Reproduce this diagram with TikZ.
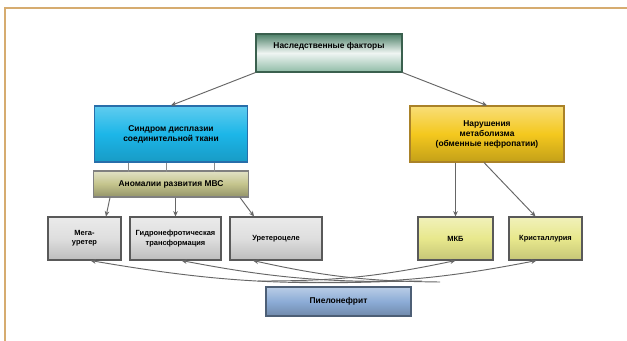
\documentclass[tikz,border=0pt]{standalone}
\usepackage{fontspec}
\setmainfont{Liberation Sans}
\usepackage{tikz}
\usetikzlibrary{arrows.meta}

\newlength\px
\setlength\px{0.75pt}

\definecolor{frametan}{RGB}{214,172,112}
\definecolor{topgreen}{RGB}{96,160,130}
\definecolor{cyanbox}{RGB}{28,182,232}
\definecolor{cyanedge}{RGB}{40,110,170}
\definecolor{goldbox}{RGB}{244,200,30}
\definecolor{goldedge}{RGB}{170,130,40}
\definecolor{oliveband}{RGB}{196,196,140}
\definecolor{greybox}{RGB}{222,222,222}
\definecolor{limebox}{RGB}{232,232,140}
\definecolor{steelbox}{RGB}{140,172,214}

\begin{document}
\begin{tikzpicture}[x=0.75pt,y=-0.75pt,
    txt/.style={font=\fontsize{6.3}{7.5}\selectfont\bfseries, align=center, inner sep=1pt},
    box/.style={txt, draw=black!65, line width=0.8pt, rectangle},
    greyb/.style={box, font=\fontsize{5.6}{7}\selectfont\bfseries, top color=white!92!black,
      bottom color=greybox!85!black, middle color=greybox},
    limeb/.style={box, font=\fontsize{5.6}{7}\selectfont\bfseries, top color=limebox!60!white,
      bottom color=limebox!85!black, middle color=limebox},
    arr/.style={-{Stealth[length=4pt,width=3.5pt]}, draw=black!60, line width=0.7pt},
    tie/.style={draw=black!45, line width=0.7pt}]
  \useasboundingbox (0,0) rectangle (627,341);
  \fill[white] (0,0) rectangle (627,341);
  \draw[frametan, line width=1pt] (5,341) -- (5,8) -- (627,8);

  % upper row
  \node[box, draw=topgreen!60!black, top color=topgreen!80!black, bottom color=topgreen!70,
        middle color=white!90!topgreen, minimum width={146*\px}, minimum height={38*\px},
        text depth=12pt]
        (gen) at (329,53) {Наследственные факторы};
  \node[box, draw=cyanedge, top color=cyanbox!70!white, bottom color=cyanbox!85!black,
        middle color=cyanbox, minimum width={153*\px}, minimum height={56*\px}]
        (dst) at (171,134) {Синдром дисплазии\\соединительной ткани};
  \node[box, draw=goldedge, top color=goldbox!60!white, bottom color=goldbox!80!black,
        middle color=goldbox, minimum width={154*\px}, minimum height={56*\px}]
        (met) at (487,134) {Нарушения\\метаболизма\\(обменные нефропатии)};
  \node[box, draw=black!50, top color=oliveband!50!white, bottom color=oliveband!75!black,
        middle color=oliveband, minimum width={155*\px}, minimum height={26*\px}]
        (anm) at (171,184) {Аномалии развития МВС};

  % lower row
  \node[greyb, minimum width={73*\px}, minimum height={43*\px}] (meg) at (84.5,238.5) {Мега-\\уретер};
  \node[greyb, minimum width={91*\px}, minimum height={43*\px}] (gnt) at (175.5,238.5) {Гидронефротическая\\трансформация};
  \node[greyb, minimum width={92*\px}, minimum height={43*\px}] (urc) at (276,238.5) {Уретероцеле};
  \node[limeb, minimum width={75*\px}, minimum height={43*\px}] (mkb) at (455.5,238.5) {МКБ};
  \node[limeb, minimum width={73*\px}, minimum height={43*\px}] (krs) at (545.5,238.5) {Кристаллурия};

  \node[box, draw=steelbox!55!black, top color=steelbox!60!white, bottom color=steelbox!80!black,
        middle color=steelbox, minimum width={145*\px}, minimum height={29*\px}]
        (pn) at (338.5,301.5) {Пиелонефрит};

  % links
  \draw[arr] (gen.south west) -- (dst.north);
  \draw[arr] (gen.south east) -- (met.north);
  \foreach \xx in {-43,-5,43} \draw[tie] (dst.south) ++(\xx,0) -- ++(0,9);
  \draw[arr] ([xshift=-61\px]anm.south) -- (meg.north -| 106,0);
  \draw[arr] (anm.south -| gnt.north) -- (gnt.north);
  \draw[arr] ([xshift=69\px]anm.south) -- ([xshift=-22\px]urc.north);
  \draw[arr] (met.south -| mkb.north) -- (mkb.north);
  \draw[arr] ([xshift=-3\px]met.south) -- ([xshift=-10\px]krs.north);

  % curves up from the bottom box
  \coordinate (l1) at (402,281);
  \coordinate (l2) at (422,281);
  \coordinate (l3) at (440,282);
  \coordinate (r1) at (258,281);
  \coordinate (r2) at (292,282);
  \draw[arr] (l1) to[bend left=6] ([xshift=6\px]meg.south);
  \draw[arr] (l2) to[bend left=6] ([xshift=6\px]gnt.south);
  \draw[arr] (l3) to[bend left=6] ([xshift=-23\px]urc.south);
  \draw[arr] (r1) to[bend right=6] (mkb.south);
  \draw[arr] (r2) to[bend right=6] ([xshift=-9\px]krs.south);
\end{tikzpicture}
\end{document}
